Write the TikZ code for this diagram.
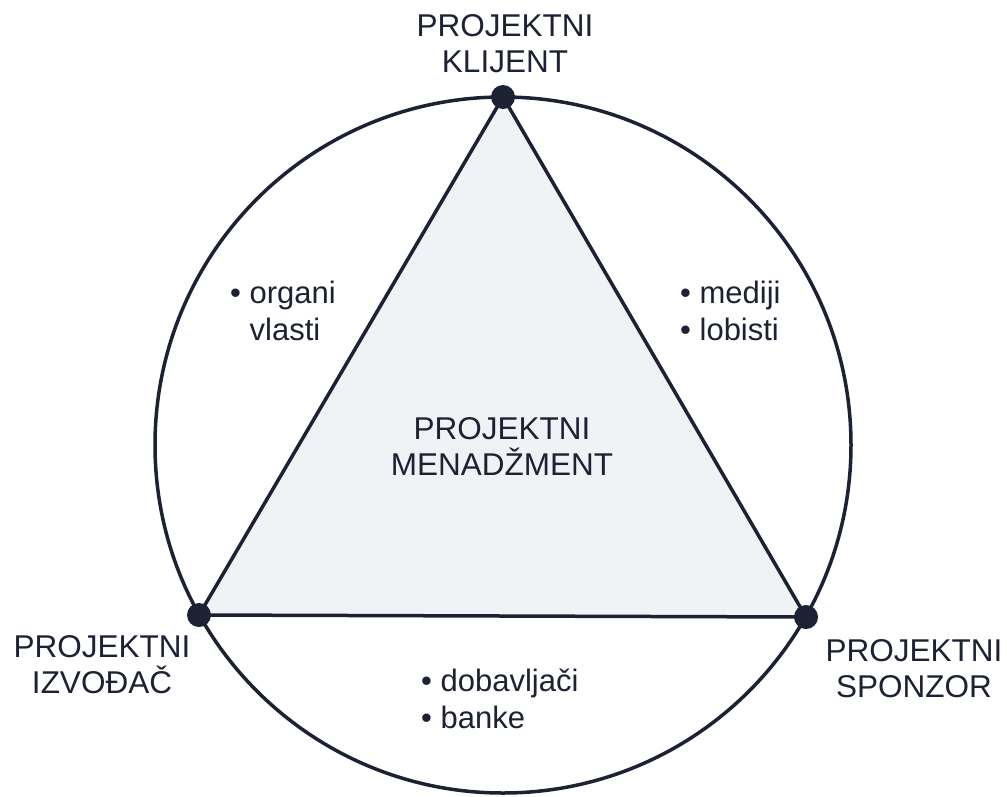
\documentclass[tikz,border=0pt]{standalone}
\usepackage{fontspec}
\setmainfont{Liberation Sans}
\usetikzlibrary{backgrounds}
\definecolor{ink}{HTML}{1C2233}
\definecolor{tri}{HTML}{F1F2F5}
\begin{document}
\begin{tikzpicture}[x=1pt,y=-1pt,
  lbl/.style={font=\fontsize{31.5}{36}\selectfont, text=ink, align=center, anchor=base, inner sep=0pt},
  lst/.style={font=\fontsize{31}{37}\selectfont, text=ink, align=left, anchor=base west, inner sep=0pt},
  vertex/.style={circle, fill=ink, minimum size=24pt, inner sep=0pt},
  edge/.style={draw=ink, line width=3.5pt, line join=round}]
\useasboundingbox (0,0) rectangle (1007,796);
\coordinate (c) at (503,445);
\node[vertex] (K) at (503,97) {};
\node[vertex] (I) at (199,615) {};
\node[vertex] (S) at (806,617) {};
\begin{scope}[on background layer]
  \fill[white] (0,0) rectangle (1007,796);
  \fill[tri] (K.center) -- (I.center) -- (S.center) -- cycle;
  \draw[edge] (c) circle[radius=348pt];
  \draw[edge] (K.center) -- (I.center) -- (S.center) -- cycle;
\end{scope}
\node[lbl] (klijent) at (505,72) {PROJEKTNI\\KLIJENT};
\node[lbl] (izvodjac) at (102,693) {PROJEKTNI\\IZVOĐAČ};
\node[lbl] (sponzor) at (914,697) {PROJEKTNI\\SPONZOR};
\node[lbl] (menadzment) at (502,475) {PROJEKTNI\\MENADŽMENT};
\node[lst] (organi) at (230,340) {• organi\\\phantom{• }vlasti};
\node[lst] (mediji) at (680,340) {• mediji\\• lobisti};
\node[lst] (dobavljaci) at (421,728) {• dobavljači\\• banke};
\end{tikzpicture}
\end{document}
